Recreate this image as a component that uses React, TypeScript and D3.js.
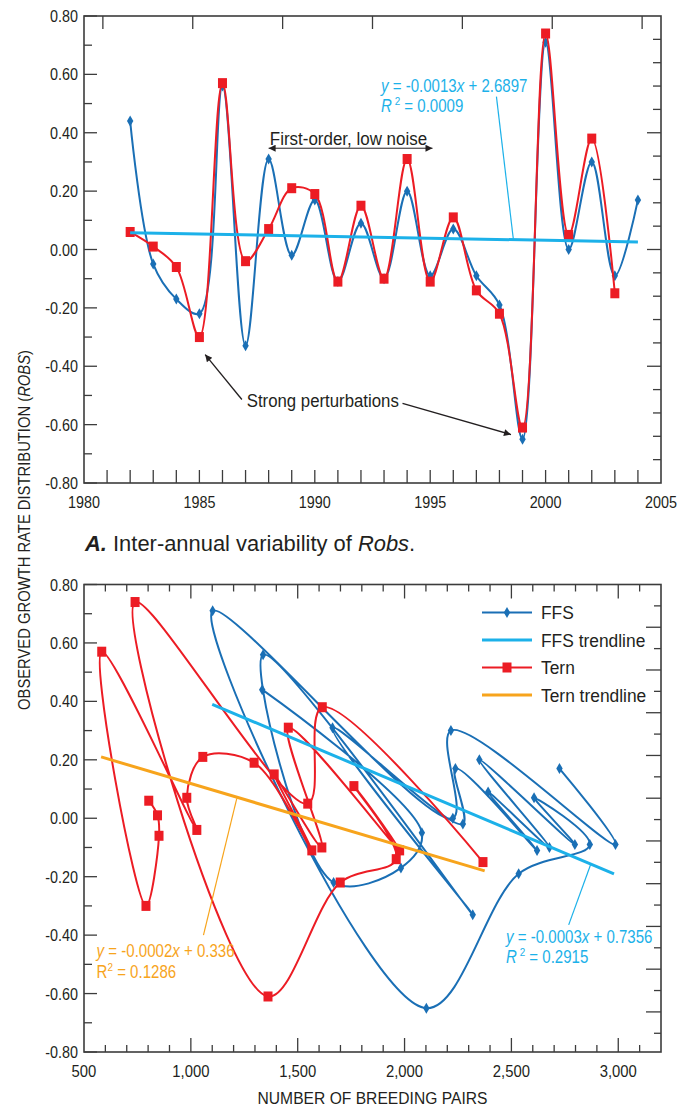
import { useEffect, useRef } from 'react';
import * as d3 from 'd3';

// Robs per year (panel A) and breeding pairs per year (panel B)
const ffsYears = [1982, 1983, 1984, 1985, 1986, 1987, 1988, 1989, 1990, 1991, 1992, 1993, 1994, 1995, 1996, 1997, 1998, 1999, 2000, 2001, 2002, 2003, 2004];
const ffsRobs = [0.44, -0.05, -0.17, -0.22, 0.56, -0.33, 0.31, -0.02, 0.17, -0.11, 0.09, -0.10, 0.20, -0.09, 0.07, -0.09, -0.19, -0.65, 0.71, 0.0, 0.30, -0.09, 0.17];
const ffsPairs = [1334, 2081, 1983, 1668, 1338, 2319, 1663, 2273, 2238, 2620, 2391, 2678, 2350, 2797, 2606, 2867, 2534, 2102, 1102, 2226, 2217, 2987, 2725];

const ternYears = [1982, 1983, 1984, 1985, 1986, 1987, 1988, 1989, 1990, 1991, 1992, 1993, 1994, 1995, 1996, 1997, 1998, 1999, 2000, 2001, 2002, 2003];
const ternRobs = [0.06, 0.01, -0.06, -0.30, 0.57, -0.04, 0.07, 0.21, 0.19, -0.11, 0.15, -0.10, 0.31, -0.11, 0.11, -0.14, -0.22, -0.61, 0.74, 0.05, 0.38, -0.15];
const ternPairs = [803, 844, 851, 790, 583, 1028, 981, 1056, 1296, 1566, 1390, 1613, 1456, 1977, 1763, 1961, 1699, 1361, 739, 1547, 1615, 2367];

// trendline end points as drawn
const yearTrendYears = [1982, 2004];
const yearTrendRobs = [0.057, 0.026];
const ffsTrendPairs = [1100, 2980];
const ffsTrendRobs = [0.39, -0.19];
const ternTrendPairs = [580, 2375];
const ternTrendRobs = [0.21, -0.18];

const robsTicks = [0.8, 0.6, 0.4, 0.2, 0.0, -0.2, -0.4, -0.6, -0.8];
const yearTicks = [1980, 1985, 1990, 1995, 2000, 2005];
const pairTicks = [500, 1000, 1500, 2000, 2500, 3000];

const legendItems = ['FFS', 'FFS trendline', 'Tern', 'Tern trendline'];

const FONT = "'Liberation Sans', Arial, sans-serif";
const BLUE = '#1a6fb5';
const CYAN = '#1cb1e9';
const RED = '#ec1c24';
const ORANGE = '#f7a41c';
const INK = '#231f20';
const AXIS = '#3c3c3c';

const App = () => {
  const svgRef = useRef<SVGSVGElement>(null);

  useEffect(() => {
    const svg = d3.select(svgRef.current);
    svg.selectAll('*').remove();

    const left = 84;
    const right = 661;

    const defs = svg.append('defs');
    defs.append('marker')
      .attr('id', 'arrow')
      .attr('viewBox', '0 0 10 10')
      .attr('refX', 10)
      .attr('refY', 5)
      .attr('markerWidth', 9)
      .attr('markerHeight', 7)
      .attr('markerUnits', 'userSpaceOnUse')
      .attr('orient', 'auto-start-reverse')
      .append('path')
      .attr('d', 'M0,0L10,5L0,10Z')
      .attr('fill', INK);

    const tick = (g, x1, y1, x2, y2) => {
      g.append('line')
        .attr('x1', x1).attr('y1', y1).attr('x2', x2).attr('y2', y2)
        .attr('stroke', AXIS).attr('stroke-width', 1.3);
    };

    // condensed look: squeeze Liberation Sans horizontally
    const label = (g, x, y, text, anchor = 'middle', size = 16.5, sx = 0.87, fill = INK) =>
      g.append('text')
        .attr('transform', `translate(${x},${y}) scale(${sx},1)`)
        .attr('text-anchor', anchor)
        .attr('font-family', FONT)
        .attr('font-size', size)
        .attr('fill', fill)
        .text(text);

    const line = d3.line().curve(d3.curveCatmullRom.alpha(0.5));

    const diamond = (g, x, y) => {
      g.append('path')
        .attr('transform', `translate(${x},${y})`)
        .attr('d', 'M0,-5.5L3.2,0L0,5.5L-3.2,0Z')
        .attr('fill', BLUE);
    };
    const square = (g, x, y) => {
      g.append('rect')
        .attr('x', x - 4.5).attr('y', y - 5)
        .attr('width', 9).attr('height', 10)
        .attr('fill', RED);
    };

    const series = (g, pts, color, marker) => {
      g.append('path')
        .attr('d', line(pts))
        .attr('fill', 'none')
        .attr('stroke', color)
        .attr('stroke-width', 2);
      pts.forEach(([x, y]) => marker(g, x, y));
    };

    const straight = (g, pts, color, width) => {
      g.append('line')
        .attr('x1', pts[0][0]).attr('y1', pts[0][1])
        .attr('x2', pts[1][0]).attr('y2', pts[1][1])
        .attr('stroke', color).attr('stroke-width', width);
    };

    const leftAxis = (g, y) => {
      d3.range(-8, 9).forEach((k) => {
        const v = k / 10;
        const major = k % 2 === 0;
        tick(g, left, y(v), left + (major ? 13 : 8), y(v));
      });
      robsTicks.forEach((v) => label(g, left - 6, y(v) + 6, v.toFixed(2), 'end'));
    };

    const frame = (g, top, bottom) => {
      g.append('rect')
        .attr('x', left).attr('y', top)
        .attr('width', right - left).attr('height', bottom - top)
        .attr('fill', 'none')
        .attr('stroke', AXIS)
        .attr('stroke-width', 1.6);
    };

    const eq = (g, x, y, color, parts) => {
      const t = g.append('text')
        .attr('transform', `translate(${x},${y}) scale(0.86,1)`)
        .attr('font-family', FONT)
        .attr('font-size', 17.5)
        .attr('fill', color);
      parts.forEach(([s, style]) => {
        const ts = t.append('tspan').text(s);
        if (style === 'i') ts.attr('font-style', 'italic');
        if (style === 'sup') ts.attr('font-size', 11.5).attr('dy', -7);
        if (style === 'down') ts.attr('dy', 7);
      });
    };

    // ---------------- panel A ----------------
    const a = svg.append('g');
    const aTop = 16;
    const aBottom = 483;
    const xA = d3.scaleLinear().domain([1980, 2005]).range([left, right]);
    const yA = d3.scaleLinear().domain([-0.8, 0.8]).range([aBottom, aTop]);

    leftAxis(a, yA);
    d3.range(1981, 2005).forEach((yr) => tick(a, xA(yr), aBottom, xA(yr), aBottom - 13));
    yearTicks.forEach((yr) => label(a, xA(yr), aBottom + 25, String(yr)));

    const topA = d3.scalePoint().domain(d3.range(7)).range([left, right]).padding(0.21);
    topA.domain().forEach((k) => tick(a, topA(k), aTop, topA(k), aTop + 13));

    const rightA = d3.scaleLinear().domain([0, 20]).range([aTop, aBottom]);
    d3.range(1, 20).forEach((k) => tick(a, right, rightA(k), right - (k % 5 === 0 ? 14 : 8), rightA(k)));

    series(a, ffsYears.map((yr, i) => [xA(yr), yA(ffsRobs[i])]), BLUE, diamond);
    series(a, ternYears.map((yr, i) => [xA(yr), yA(ternRobs[i])]), RED, square);
    straight(a, yearTrendYears.map((yr, i) => [xA(yr), yA(yearTrendRobs[i])]), CYAN, 3);

    frame(a, aTop, aBottom);

    // annotations A
    a.append('line')
      .attr('x1', xA(1988)).attr('y1', yA(0.347))
      .attr('x2', xA(1995.1)).attr('y2', yA(0.347))
      .attr('stroke', INK).attr('stroke-width', 1)
      .attr('marker-start', 'url(#arrow)')
      .attr('marker-end', 'url(#arrow)');
    label(a, xA(1988.05), yA(0.357), 'First-order, low noise', 'start', 17.5, 0.97);

    label(a, xA(1987.05), yA(-0.541), 'Strong perturbations', 'start', 17.5, 0.96);
    a.append('line')
      .attr('x1', xA(1986.84)).attr('y1', yA(-0.514))
      .attr('x2', xA(1985.25)).attr('y2', yA(-0.36))
      .attr('stroke', INK).attr('stroke-width', 1.3)
      .attr('marker-end', 'url(#arrow)');
    a.append('line')
      .attr('x1', xA(1993.8)).attr('y1', yA(-0.527))
      .attr('x2', xA(1998.5)).attr('y2', yA(-0.634))
      .attr('stroke', INK).attr('stroke-width', 1.3)
      .attr('marker-end', 'url(#arrow)');

    eq(a, xA(1992.87), yA(0.541), CYAN, [['y', 'i'], [' = -0.0013'], ['x', 'i'], [' + 2.6897']]);
    eq(a, xA(1992.87), yA(0.47), CYAN, [['R', 'i'], [' 2', 'sup'], [' = 0.0009', 'down']]);
    a.append('line')
      .attr('x1', xA(1997.87)).attr('y1', yA(0.524))
      .attr('x2', xA(1998.6)).attr('y2', yA(0.037))
      .attr('stroke', CYAN).attr('stroke-width', 1.2);

    // caption
    const cap = a.append('text')
      .attr('transform', 'translate(85,551) scale(1.02,1)')
      .attr('font-family', FONT)
      .attr('font-size', 21.5)
      .attr('fill', INK);
    cap.append('tspan').attr('font-weight', 'bold').attr('font-style', 'italic').text('A.');
    cap.append('tspan').text(' Inter-annual variability of ');
    cap.append('tspan').attr('font-style', 'italic').text('Robs');
    cap.append('tspan').text('.');

    // ---------------- panel B ----------------
    const b = svg.append('g');
    const bTop = 584.5;
    const bBottom = 1052;
    const xB = d3.scaleLinear().domain([500, 3200]).range([left, right]);
    const yB = d3.scaleLinear().domain([-0.8, 0.8]).range([bBottom, bTop]);

    leftAxis(b, yB);
    d3.range(600, 3200, 100).forEach((n) => {
      const len = n % 500 === 0 ? 14 : 7;
      tick(b, xB(n), bBottom, xB(n), bBottom - len);
      tick(b, xB(n), bTop, xB(n), bTop + len);
    });
    pairTicks.forEach((n) => label(b, xB(n), bBottom + 25, d3.format(',')(n), 'middle', 16.5, 0.9));

    const step = xB(600) - xB(500);
    d3.range(1, 22).forEach((k) => {
      const yy = bTop + k * step;
      tick(b, right, yy, right - (k % 2 === 0 ? 15 : 7), yy);
    });

    series(b, ffsPairs.map((n, i) => [xB(n), yB(ffsRobs[i])]), BLUE, diamond);
    series(b, ternPairs.map((n, i) => [xB(n), yB(ternRobs[i])]), RED, square);
    straight(b, ffsTrendPairs.map((n, i) => [xB(n), yB(ffsTrendRobs[i])]), CYAN, 3);
    straight(b, ternTrendPairs.map((n, i) => [xB(n), yB(ternTrendRobs[i])]), ORANGE, 3);

    frame(b, bTop, bBottom);

    // legend
    const legColors = [BLUE, CYAN, RED, ORANGE];
    legendItems.forEach((name, i) => {
      const ly = 612.5 + i * 27.5;
      b.append('line')
        .attr('x1', 482).attr('y1', ly).attr('x2', 532).attr('y2', ly)
        .attr('stroke', legColors[i]).attr('stroke-width', i % 2 === 1 ? 3 : 2);
      if (i === 0) diamond(b, 507, ly);
      if (i === 2) square(b, 507, ly);
      label(b, 541, ly + 6.5, name, 'start', 18.5, 0.94);
    });

    // equations B
    eq(b, xB(559), yB(-0.474), ORANGE, [['y', 'i'], [' = -0.0002'], ['x', 'i'], [' + 0.336']]);
    eq(b, xB(559), yB(-0.547), ORANGE, [['R'], ['2', 'sup'], [' = 0.1286', 'down']]);
    b.append('line')
      .attr('x1', xB(1059)).attr('y1', yB(-0.4))
      .attr('x2', xB(1215)).attr('y2', yB(0.068))
      .attr('stroke', ORANGE).attr('stroke-width', 1.2);

    eq(b, xB(2475), yB(-0.427), CYAN, [['y', 'i'], [' = -0.0003'], ['x', 'i'], [' + 0.7356']]);
    eq(b, xB(2475), yB(-0.495), CYAN, [['R', 'i'], [' 2', 'sup'], [' = 0.2915', 'down']]);
    b.append('line')
      .attr('x1', xB(2768)).attr('y1', yB(-0.365))
      .attr('x2', xB(2870)).attr('y2', yB(-0.16))
      .attr('stroke', CYAN).attr('stroke-width', 1.2);

    label(b, (left + right) / 2, 1104, 'NUMBER OF BREEDING PAIRS', 'middle', 17, 0.92);

    // shared y title
    const yt = svg.append('text')
      .attr('transform', 'translate(30,530) rotate(-90) scale(0.87,1)')
      .attr('text-anchor', 'middle')
      .attr('font-family', FONT)
      .attr('font-size', 17)
      .attr('fill', INK);
    yt.append('tspan').text('OBSERVED GROWTH RATE DISTRIBUTION (');
    yt.append('tspan').attr('font-style', 'italic').text('ROBS');
    yt.append('tspan').text(')');
  }, []);

  return (
    <svg
      ref={svgRef}
      width={693}
      height={1109}
      style={{ position: 'absolute', left: 0, top: 0, background: '#fff' }}
    />
  );
};

export default App;
